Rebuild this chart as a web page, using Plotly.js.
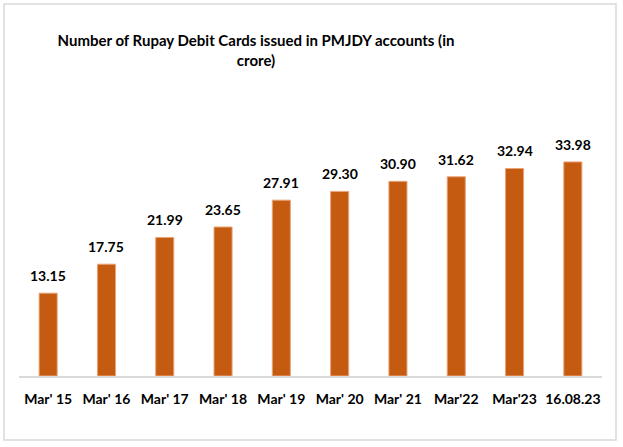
<!DOCTYPE html>
<html>
<head>
<meta charset="utf-8">
<script src="https://cdn.plot.ly/plotly-3.0.1.min.js"></script>
<style>html,body{margin:0;padding:0;background:#fff;}#chart{width:623px;height:447px;}</style>
</head>
<body>
<div id="chart"></div>
<script>
var categories = ["Mar' 15", "Mar' 16", "Mar' 17", "Mar' 18", "Mar' 19", "Mar' 20", "Mar' 21", "Mar'22", "Mar'23", "16.08.23"];
var cards = [13.15, 17.75, 21.99, 23.65, 27.91, 29.30, 30.90, 31.62, 32.94, 33.98];
var labels = ["13.15", "17.75", "21.99", "23.65", "27.91", "29.30", "30.90", "31.62", "32.94", "33.98"];

var FONT = "Lato, 'Open Sans', sans-serif";

var trace = {
  type: 'bar',
  x: categories,
  y: cards,
  marker: {color: '#C55A11', line: {color: '#E9A57A', width: 1}},
  hoverinfo: 'none'
};

var annotations = categories.map(function(c, i) {
  return {
    x: c, y: cards[i], xref: 'x', yref: 'y',
    text: '<b>' + labels[i] + '</b>',
    showarrow: false, yanchor: 'bottom', yshift: 7,
    font: {family: FONT, size: 14, color: '#000'}
  };
});

var layout = {
  width: 623, height: 447,
  margin: {l: 19, r: 21, t: 124, b: 71},
  paper_bgcolor: '#fff', plot_bgcolor: '#fff',
  title: {
    text: '<b>Number of Rupay Debit Cards issued in PMJDY accounts (in<br>crore)</b>',
    x: 256/623, xref: 'container', xanchor: 'center',
    y: 1 - 46/447, yref: 'container', yanchor: 'top',
    font: {family: FONT, size: 15, color: '#000'}
  },
  bargap: 0.69,
  showlegend: false,
  xaxis: {
    type: 'category',
    showline: true, linecolor: '#d9d9d9', linewidth: 1.5,
    ticks: '', showgrid: false, zeroline: false,
    tickfont: {family: FONT, size: 14, color: '#000', weight: 'bold'},
    ticklabelstandoff: 10
  },
  yaxis: {
    range: [0, 40], visible: false, showgrid: false, zeroline: false
  },
  annotations: annotations,
  shapes: [{
    type: 'rect', xref: 'paper', yref: 'paper',
    x0: -15/583, x1: 597/583, y0: (376-440)/252, y1: (376-4)/252,
    line: {color: '#d9d9d9', width: 1.5}, fillcolor: 'rgba(0,0,0,0)'
  }]
};

Plotly.newPlot('chart', [trace], layout, {staticPlot: true, displayModeBar: false});
</script>
</body>
</html>
